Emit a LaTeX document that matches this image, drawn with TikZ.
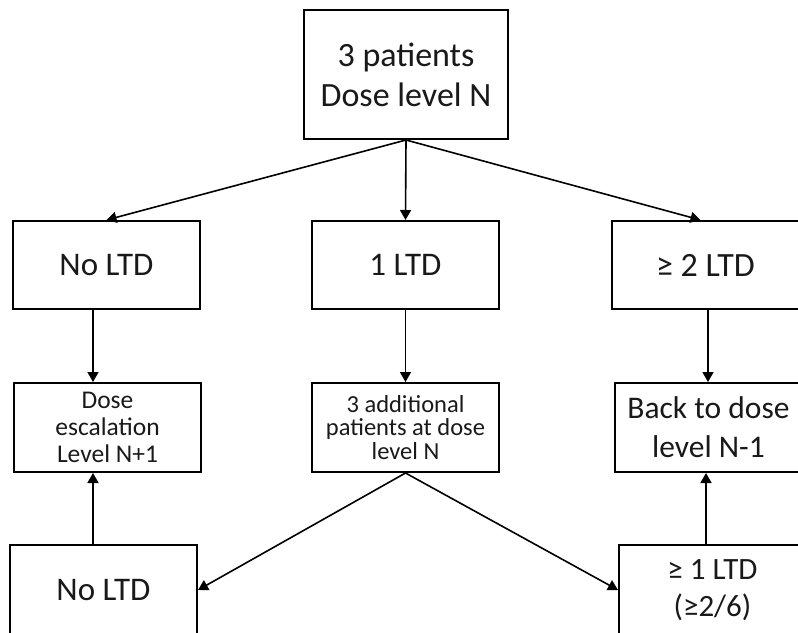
\documentclass[tikz,border=0pt]{standalone}
\usepackage{fontspec}
\setmainfont{Carlito}
\usetikzlibrary{arrows.meta}

\begin{document}
\begin{tikzpicture}[x=1pt,y=-1pt,>={Triangle[length=10pt,width=11pt]}]

      \path[use as bounding box,clip] (0,0) rectangle (798,632);

      \begin{scope}[every node/.style={draw,line width=2pt,minimum width=187pt,minimum height=88pt,align=center,inner sep=2pt,text=black!90}]
        \node[minimum width=204pt,minimum height=129pt,font=\fontsize{34}{40}\selectfont] (1) at (406,74.5) {3 patients\\Dose level N};
        \node[font=\fontsize{33}{38}\selectfont] (2) at (106.5,265) {No LTD};
        \node[font=\fontsize{33}{38}\selectfont] (3) at (405.5,265) {1 LTD};
        \node[font=\fontsize{34}{38}\selectfont] (4) at (705.5,265) {≥ 2 LTD};
        \node[minimum height=89pt,font=\fontsize{25.5}{27}\selectfont] (5) at (107.5,427.5) {Dose\\escalation\\Level N+1};
        \node[minimum height=89pt,font=\fontsize{24.5}{23.5}\selectfont] (6) at (405.5,427.5) {3 additional\\patients at dose\\level N};
        \node[minimum height=89pt,font=\fontsize{31.5}{39}\selectfont] (7) at (708.5,427.5) {Back to dose\\level N-1};
        \node[minimum height=90pt,font=\fontsize{33}{40}\selectfont] (8) at (103.5,590) {No LTD};
        \node[minimum height=90pt,font=\fontsize{31}{37}\selectfont] (9) at (712.5,590) {≥ 1 LTD\\(≥2/6)};
      \end{scope}

      \begin{scope}[every edge/.style={draw,->,line width=1.6pt}]
        \path (1.south) edge (2.north);
        \path (1.south) edge (3.north);
        \path (1.south) edge ([xshift=-5pt]4.north);
        \path ([xshift=-13.5pt]2.south) edge ([xshift=-14.5pt]5.north);
        \path (3) edge (6);
        \path ([xshift=2.5pt]4.south) edge ([xshift=-0.5pt]7.north);
        \path ([xshift=-10.5pt]8.north) edge ([xshift=-14.5pt]5.south);
        \path (6.south) edge (8.east);
        \path (6.south) edge (9.west);
        \path ([xshift=-6.5pt]9.north) edge ([xshift=-2.5pt]7.south);
      \end{scope}

    \end{tikzpicture}
\end{document}
